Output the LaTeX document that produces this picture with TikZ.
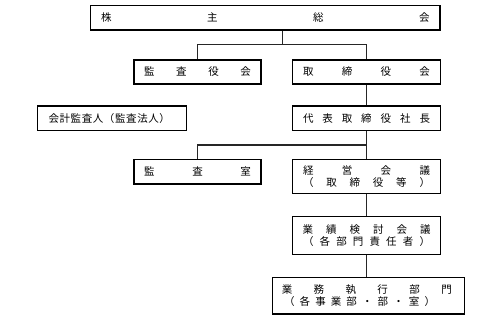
\documentclass[tikz,border=0pt]{standalone}
\usepackage{fontspec}
\setmainfont{Noto Sans CJK JP}
\begin{document}
\begin{tikzpicture}[x=1pt,y=-1pt,
  orgbox/.style={draw=black,line width=1.2pt,inner sep=0pt,align=center,
    font=\fontsize{10.5}{11.6}\selectfont},
  link/.style={draw=black!85,line width=1.1pt}]
\useasboundingbox[fill=white] (0,0) rectangle (500,320);
\node[orgbox,minimum width=349.3pt,minimum height=24.3pt] (top) at (265.35,17.85)
  {\makebox[328.3pt][s]{株\hfill 主\hfill 総\hfill 会}};
\node[orgbox,minimum width=127pt,minimum height=24pt] (kansayaku) at (197.5,72)
  {\makebox[106.7pt][s]{監\hfill 査\hfill 役\hfill 会}};
\node[orgbox,minimum width=148pt,minimum height=24pt] (tori) at (366.5,72)
  {\makebox[126.7pt][s]{取\hfill 締\hfill 役\hfill 会}};
\node[orgbox,minimum width=149pt,minimum height=24.5pt] (kaikei) at (112.2,118.3)
  {\makebox[149pt][l]{\hspace{10.8pt}\makebox[121.5pt][s]{会\hfill 計\hfill 監\hfill 査\hfill 人\hfill （\hfill 監\hfill 査\hfill 法\hfill 人\hfill ）}}};
\node[orgbox,minimum width=148pt,minimum height=24.5pt] (daihyo) at (366.5,118.3)
  {\makebox[127pt][s]{代\hfill 表\hfill 取\hfill 締\hfill 役\hfill 社\hfill 長}};
\node[orgbox,minimum width=127pt,minimum height=24.5pt] (kansashitsu) at (197.5,171.7)
  {\makebox[106.7pt][s]{監\hfill 査\hfill 室}};
\node[orgbox,minimum width=148pt,minimum height=34pt] (keiei) at (366.5,176.5)
  {\makebox[127pt][s]{経\hfill 営\hfill 会\hfill 議}\\
   \makebox[127pt][s]{（\hfill 取\hfill 締\hfill 役\hfill 等\hfill ）}};
\node[orgbox,minimum width=148pt,minimum height=38pt] (gyoseki) at (366.5,235.5)
  {\makebox[128pt][s]{業\hfill 績\hfill 検\hfill 討\hfill 会\hfill 議}\\
   \makebox[127pt][s]{（\hfill 各\hfill 部\hfill 門\hfill 責\hfill 任\hfill 者\hfill ）}};
\node[orgbox,minimum width=191.8pt,minimum height=36.5pt] (gyomu) at (368.25,295.8)
  {\makebox[191.8pt][l]{\hspace{9.4pt}\makebox[170pt][s]{業\hfill 務\hfill 執\hfill 行\hfill 部\hfill 門}}\\
   \makebox[191.8pt][l]{\hspace{11.7pt}\makebox[151pt][s]{（\hfill 各\hfill 事\hfill 業\hfill 部\hfill ・\hfill 部\hfill ・\hfill 室\hfill ）}}};
\coordinate (j1) at (282.3,44.3);
\coordinate (j2) at (366.5,145);
\draw[link] (top.south -| j1) -- (j1);
\draw[link] (kansayaku.north) |- (j1) -| (tori.north);
\draw[link] (tori.south) -- (daihyo.north);
\draw[link] (daihyo.south) -- (keiei.north);
\draw[link] (kansashitsu.north) |- (j2);
\draw[link] (keiei.south) -- (gyoseki.north);
\draw[link] (gyoseki.south) -- (gyoseki.south |- gyomu.north);
\end{tikzpicture}
\end{document}
